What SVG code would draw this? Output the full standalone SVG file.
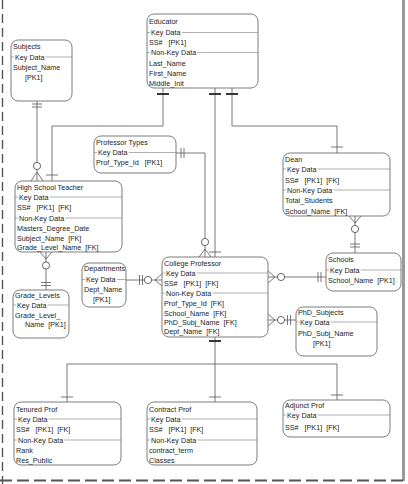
<svg xmlns="http://www.w3.org/2000/svg" width="408" height="484" viewBox="0 0 408 484">
<style>
.bg{fill:#ffffff}
.box{fill:#ffffff;stroke:#6e6e6e;stroke-width:0.9}
.sep{stroke:#7a7a7a;stroke-width:0.6}
text{font-family:"Liberation Sans",Arial,sans-serif;font-size:7.2px;fill:#1c1c1c;white-space:pre}
.lbl{stroke:#ffffff;stroke-width:3;paint-order:stroke}
.c{fill:none;stroke:#555555;stroke-width:0.8}
.bar{fill:none;stroke:#222222;stroke-width:1.8}
.tk{fill:none;stroke:#555555;stroke-width:0.8}
.o{fill:#ffffff;stroke:#444444;stroke-width:0.8}
</style>
<rect class="bg" x="0" y="0" width="408" height="484"/>
<g id="page">
<line x1="2.5" y1="0" x2="2.5" y2="484" stroke="#555" stroke-width="1.4" stroke-dasharray="9 5"/>
<line x1="403.5" y1="0" x2="403.5" y2="481" stroke="#9a9a9a" stroke-width="3"/>
<line x1="0" y1="480.5" x2="405" y2="480.5" stroke="#555" stroke-width="1.8" stroke-dasharray="12 5"/>
</g>
<g id="connectors">
<path class="c" d="M163,88 V126 H52 V181"/>
<line class="bar" x1="157" y1="94" x2="169" y2="94"/>
<line class="tk" x1="46" y1="175" x2="58" y2="175"/>
<path class="c" d="M215,88 V257"/>
<line class="bar" x1="209" y1="94" x2="221" y2="94"/>
<line class="tk" x1="209" y1="252" x2="221" y2="252"/>
<path class="c" d="M232,88 V126 H337 V153"/>
<line class="bar" x1="226" y1="94" x2="238" y2="94"/>
<line class="tk" x1="331" y1="147" x2="343" y2="147"/>
<path class="c" d="M37,101 V181"/>
<line class="tk" x1="32" y1="104" x2="42" y2="104"/>
<line class="tk" x1="32" y1="107" x2="42" y2="107"/>
<circle class="o" cx="37" cy="166" r="3.6"/>
<path class="c" d="M37,172 L31,181 M37,172 L43,181"/>
<path class="c" d="M46,252 V290"/>
<path class="c" d="M46,259 L40,252 M46,259 L52,252"/>
<circle class="o" cx="46" cy="265.5" r="3.6"/>
<line class="tk" x1="41" y1="282.5" x2="51" y2="282.5"/>
<line class="tk" x1="41" y1="285.5" x2="51" y2="285.5"/>
<path class="c" d="M176,153 H205 V257"/>
<line class="tk" x1="181" y1="148" x2="181" y2="158"/>
<line class="tk" x1="184" y1="148" x2="184" y2="158"/>
<circle class="o" cx="205" cy="242" r="3.6"/>
<path class="c" d="M205,249 L199,257 M205,249 L211,257"/>
<path class="c" d="M355,216 V253"/>
<path class="c" d="M355,223 L349,216 M355,223 L361,216"/>
<circle class="o" cx="355" cy="229" r="3.6"/>
<line class="tk" x1="350" y1="244" x2="360" y2="244"/>
<line class="tk" x1="350" y1="247" x2="360" y2="247"/>
<path class="c" d="M268,277 H326"/>
<path class="c" d="M275,277 L268,271 M275,277 L268,283"/>
<circle class="o" cx="281" cy="277" r="3.6"/>
<line class="tk" x1="318" y1="272" x2="318" y2="282"/>
<line class="tk" x1="321" y1="272" x2="321" y2="282"/>
<path class="c" d="M268,320 H296"/>
<path class="c" d="M275,320 L268,314 M275,320 L268,326"/>
<circle class="o" cx="281" cy="320" r="3.6"/>
<line class="tk" x1="287.5" y1="315" x2="287.5" y2="325"/>
<line class="tk" x1="290.5" y1="315" x2="290.5" y2="325"/>
<path class="c" d="M126,280 H162"/>
<line class="tk" x1="139.5" y1="275" x2="139.5" y2="285"/>
<line class="tk" x1="142.5" y1="275" x2="142.5" y2="285"/>
<circle class="o" cx="148" cy="280" r="3.6"/>
<path class="c" d="M155,280 L162,274 M155,280 L162,286"/>
<path class="c" d="M215,337 V402"/>
<line class="bar" x1="209" y1="341" x2="221" y2="341"/>
<path class="c" d="M67,402 V364 H337 V400"/>
<line class="tk" x1="61" y1="397" x2="73" y2="397"/>
<line class="tk" x1="209" y1="397" x2="221" y2="397"/>
<line class="tk" x1="331" y1="395" x2="343" y2="395"/>
</g>
<g id="educator">
<rect class="box" x="147" y="14" width="111" height="74" rx="7"/>
<line class="sep" x1="147" y1="32.5" x2="258" y2="32.5"/>
<line class="sep" x1="147" y1="52.5" x2="258" y2="52.5"/>
<text x="149" y="23.5">Educator</text>
<text class="lbl" x="151" y="35">Key Data</text>
<text x="149" y="45">SS#   [PK1]</text>
<text class="lbl" x="151" y="55">Non-Key Data</text>
<text x="149" y="65.5">Last_Name</text>
<text x="149" y="75.5">First_Name</text>
<text x="149" y="85.5">Middle_Init</text>
</g>
<g id="subjects">
<rect class="box" x="11" y="40" width="61" height="61" rx="7"/>
<line class="sep" x1="11" y1="57" x2="72" y2="57"/>
<text x="13" y="49">Subjects</text>
<text class="lbl" x="15" y="59.5">Key Data</text>
<text x="13" y="69.5">Subject_Name</text>
<text x="25" y="79.5">[PK1]</text>
</g>
<g id="professor-types">
<rect class="box" x="94" y="136" width="82" height="37" rx="7"/>
<line class="sep" x1="94" y1="152.5" x2="176" y2="152.5"/>
<text x="96" y="144.5">Professor Types</text>
<text class="lbl" x="98" y="155">Key Data</text>
<text x="96" y="165">Prof_Type_Id   [PK1]</text>
</g>
<g id="high-school-teacher">
<rect class="box" x="15" y="181" width="107" height="71" rx="7"/>
<line class="sep" x1="15" y1="197" x2="122" y2="197"/>
<line class="sep" x1="15" y1="218" x2="122" y2="218"/>
<text x="17" y="189.5">High School Teacher</text>
<text class="lbl" x="19" y="199.5">Key Data</text>
<text x="17" y="209.5">SS#   [PK1]  [FK]</text>
<text class="lbl" x="19" y="220.5">Non-Key Data</text>
<text x="17" y="230.5">Masters_Degree_Date</text>
<text x="17" y="240.5">Subject_Name  [FK]</text>
<text x="17" y="250">Grade_Level_Name  [FK]</text>
</g>
<g id="dean">
<rect class="box" x="283" y="153" width="107" height="63" rx="7"/>
<line class="sep" x1="283" y1="169" x2="390" y2="169"/>
<line class="sep" x1="283" y1="190" x2="390" y2="190"/>
<text x="285" y="161.5">Dean</text>
<text class="lbl" x="287" y="171.5">Key Data</text>
<text x="285" y="182.5">SS#   [PK1]  [FK]</text>
<text class="lbl" x="287" y="192.5">Non-Key Data</text>
<text x="285" y="203">Total_Students</text>
<text x="285" y="213.5">School_Name  [FK]</text>
</g>
<g id="schools">
<rect class="box" x="326" y="253" width="75" height="38" rx="7"/>
<line class="sep" x1="326" y1="270" x2="401" y2="270"/>
<text x="328" y="261.5">Schools</text>
<text class="lbl" x="330" y="272.5">Key Data</text>
<text x="328" y="282.5">School_Name  [PK1]</text>
</g>
<g id="departments">
<rect class="box" x="82" y="263" width="44" height="44" rx="7"/>
<line class="sep" x1="82" y1="279.5" x2="126" y2="279.5"/>
<text x="84" y="270.5">Departments</text>
<text class="lbl" x="86" y="282">Key Data</text>
<text x="84" y="292">Dept_Name</text>
<text x="93" y="301.5">[PK1]</text>
</g>
<g id="college-professor">
<rect class="box" x="162" y="257" width="106" height="80" rx="7"/>
<line class="sep" x1="162" y1="273" x2="268" y2="273"/>
<line class="sep" x1="162" y1="293" x2="268" y2="293"/>
<text x="164" y="265.5">College Professor</text>
<text class="lbl" x="166" y="275.5">Key Data</text>
<text x="164" y="285.5">SS#   [PK1]  [FK]</text>
<text class="lbl" x="166" y="295.5">Non-Key Data</text>
<text x="164" y="305.5">Prof_Type_Id  [FK]</text>
<text x="164" y="315.5">School_Name  [FK]</text>
<text x="164" y="324.5">PhD_Subj_Name  [FK]</text>
<text x="164" y="333.5">Dept_Name  [FK]</text>
</g>
<g id="phd-subjects">
<rect class="box" x="296" y="307" width="81" height="49" rx="7"/>
<line class="sep" x1="296" y1="322" x2="377" y2="322"/>
<text x="298" y="315">PhD_Subjects</text>
<text class="lbl" x="300" y="324.5">Key Data</text>
<text x="298" y="335.5">PhD_Subj_Name</text>
<text x="313" y="345.5">[PK1]</text>
</g>
<g id="grade-levels">
<rect class="box" x="13" y="290" width="56" height="48" rx="7"/>
<line class="sep" x1="13" y1="305" x2="69" y2="305"/>
<text x="15" y="298">Grade_Levels</text>
<text class="lbl" x="17" y="307.5">Key Data</text>
<text x="15" y="317.5">Grade_Level_</text>
<text x="25" y="327">Name  [PK1]</text>
</g>
<g id="tenured-prof">
<rect class="box" x="14" y="402" width="107" height="63" rx="7"/>
<line class="sep" x1="14" y1="419" x2="121" y2="419"/>
<line class="sep" x1="14" y1="440" x2="121" y2="440"/>
<text x="16" y="411.5">Tenured Prof</text>
<text class="lbl" x="18" y="421.5">Key Data</text>
<text x="16" y="431.5">SS#   [PK1]  [FK]</text>
<text class="lbl" x="18" y="442.5">Non-Key Data</text>
<text x="16" y="452.5">Rank</text>
<text x="16" y="462.5">Res_Public</text>
</g>
<g id="contract-prof">
<rect class="box" x="147" y="402" width="110" height="63" rx="7"/>
<line class="sep" x1="147" y1="419" x2="257" y2="419"/>
<line class="sep" x1="147" y1="440" x2="257" y2="440"/>
<text x="149" y="411.5">Contract Prof</text>
<text class="lbl" x="151" y="421.5">Key Data</text>
<text x="149" y="431.5">SS#   [PK1]  [FK]</text>
<text class="lbl" x="151" y="442.5">Non-Key Data</text>
<text x="149" y="452.5">contract_term</text>
<text x="149" y="462.5">Classes</text>
</g>
<g id="adjunct-prof">
<rect class="box" x="283" y="400" width="107" height="37" rx="7"/>
<line class="sep" x1="283" y1="415" x2="390" y2="415"/>
<text x="285" y="407.5">Adjunct Prof</text>
<text class="lbl" x="287" y="417.5">Key Data</text>
<text x="285" y="429.5">SS#   [PK1]  [FK]</text>
</g>
</svg>
